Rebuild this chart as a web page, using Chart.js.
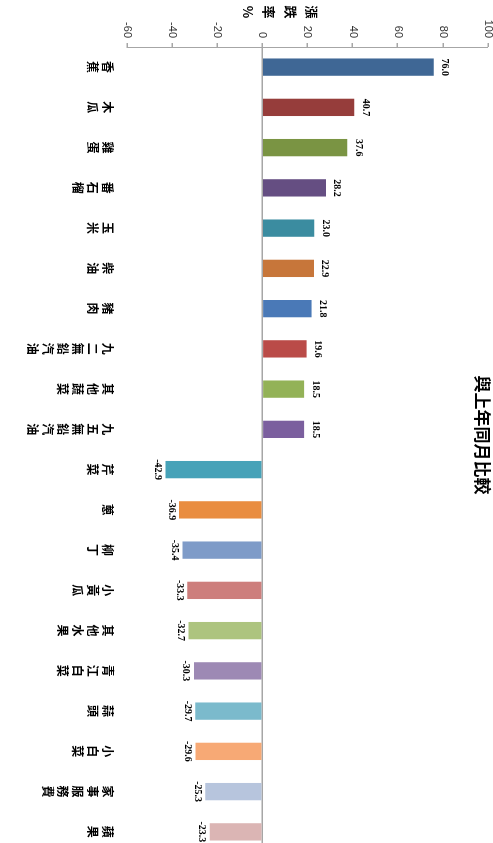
<!DOCTYPE html>
<html>
<head>
<meta charset="utf-8">
<script src="https://cdn.jsdelivr.net/npm/chart.js@4/dist/chart.umd.min.js"></script>
<style>
    html, body { margin: 0; padding: 0; background: #fff; overflow: hidden; }
    /* chart is drawn upright, then turned a quarter clockwise like the reference */
    #wrap {
        position: absolute; left: 0; top: 0;
        width: 860px; height: 493px;
        transform-origin: 0 0;
        transform: translate(493px, 0) rotate(90deg);
    }
</style>
</head>
<body>
<div id="wrap"><canvas id="chart" width="860" height="493"></canvas></div>
<script>
// Data
const chartTitle = '與上年同月比較';
const axisTitle = '漲跌率%';
const categories = ['香蕉', '木瓜', '雞蛋', '番石榴', '玉米', '柴油', '豬肉', '九二無鉛汽油', '其他蔬菜', '九五無鉛汽油',
    '芹菜', '蔥', '柳丁', '小黃瓜', '其他水果', '青江白菜', '蒜頭', '小白菜', '家事服務費', '蘋果'];
const changes = [76.0, 40.7, 37.6, 28.2, 23.0, 22.9, 21.8, 19.6, 18.5, 18.5,
    -42.9, -36.9, -35.4, -33.3, -32.7, -30.3, -29.7, -29.6, -25.3, -23.3];
const barColors = ['#3f6795', '#963d3b', '#7a9443', '#654e82', '#3b8ca0', '#c7763a', '#4a79b7', '#ba4b48', '#93b257', '#7b5f9e',
    '#46a2b8', '#e98d40', '#7e9bc8', '#cd7e7c', '#adc47f', '#9d89b4', '#7bbacc', '#f7a975', '#b7c5dd', '#dbb5b4'];
const yTicks = [-60, -40, -20, 0, 20, 40, 60, 80, 100];

// Value labels at the bar ends
const valueLabels = {
    id: 'valueLabels',
    afterDatasetsDraw(chart) {
        const ctx = chart.ctx;
        const meta = chart.getDatasetMeta(0);
        ctx.save();
        ctx.font = 'bold 10px "Liberation Serif"';
        ctx.fillStyle = '#000';
        ctx.textAlign = 'center';
        ctx.textBaseline = 'middle';
        meta.data.forEach((bar, i) => {
            const v = changes[i];
            const y = v >= 0 ? bar.y - 11 : bar.y + 8;
            ctx.fillText(v.toFixed(1), bar.x, y);
        });
        ctx.restore();
    }
};

// Title and stacked axis title
const titles = {
    id: 'titles',
    afterDraw(chart) {
        const ctx = chart.ctx;
        ctx.save();
        ctx.fillStyle = '#000';
        ctx.textAlign = 'center';
        ctx.textBaseline = 'middle';
        ctx.font = 'bold 17px "Noto Sans CJK TC"';
        ctx.fillText(chartTitle, 435, 11);
        ctx.font = 'bold 13px "Noto Sans CJK TC"';
        [...axisTitle].forEach((ch, i) => ctx.fillText(ch, 12, 181 + i * 21.5));
        ctx.restore();
    }
};

new Chart(document.getElementById('chart').getContext('2d'), {
    type: 'bar',
    data: {
        labels: categories.map(c => [...c]),
        datasets: [{
            data: changes,
            backgroundColor: barColors,
            borderWidth: 0,
            categoryPercentage: 1,
            barPercentage: 0.43
        }]
    },
    options: {
        responsive: false,
        animation: false,
        layout: { padding: { left: 0, right: 8, top: 5, bottom: 0 } },
        plugins: { legend: { display: false }, tooltip: { enabled: false } },
        scales: {
            x: {
                grid: { display: false, drawTicks: false },
                border: { display: false },
                ticks: {
                    color: '#000',
                    padding: 12,
                    autoSkip: false,
                    maxRotation: 0,
                    font: { family: '"Noto Sans CJK TC"', size: 12, weight: 'bold', lineHeight: 1.25 }
                },
                afterFit: s => { s.height = 127; s.paddingLeft = 0; s.paddingRight = 0; }
            },
            y: {
                min: -60,
                max: 100,
                afterBuildTicks: s => { s.ticks = yTicks.map(v => ({ value: v })); },
                grid: {
                    color: c => c.tick && c.tick.value === 0 ? '#a6a6a6' : 'rgba(0,0,0,0)',
                    lineWidth: 1.5,
                    tickColor: '#a6a6a6',
                    tickLength: 4
                },
                border: { color: '#a6a6a6', width: 1 },
                ticks: {
                    color: '#333',
                    padding: 5,
                    font: { family: '"Liberation Sans"', size: 11 }
                },
                afterFit: s => { s.width = 47; s.paddingTop = 0; s.paddingBottom = 0; }
            }
        }
    },
    plugins: [valueLabels, titles]
});
</script>
</body>
</html>
